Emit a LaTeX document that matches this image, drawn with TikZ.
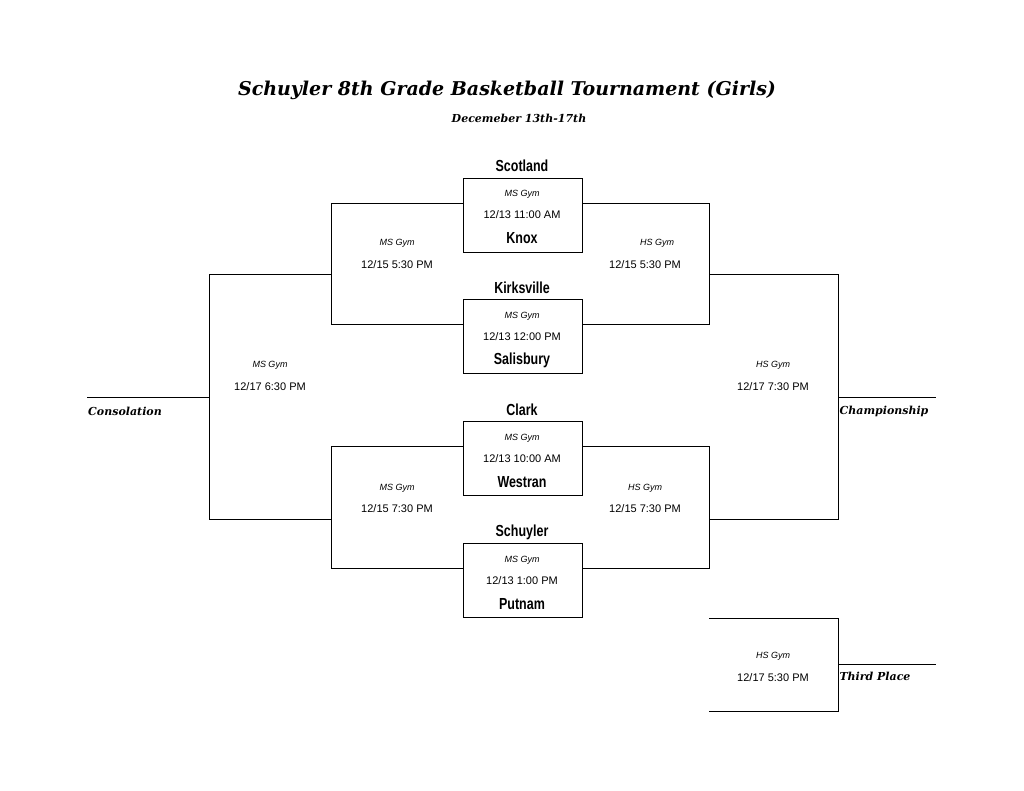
\documentclass[tikz,border=0pt]{standalone}
\usepackage{fontspec}
\setmainfont{Liberation Sans}
\newfontfamily\teamfont[FakeStretch=0.78]{Liberation Sans Bold}
\newfontfamily\scriptf{DejaVu Serif}
\begin{document}
\begin{tikzpicture}[x=1pt,y=-1pt,
  line/.style={black,line width=0.9pt},
  gbox/.style={draw,line width=0.9pt,minimum width=119pt,minimum height=74pt,inner sep=0pt},
  team/.style={font=\teamfont\fontsize{16}{16}\selectfont},
  gym/.style={font=\itshape\fontsize{9}{9}\selectfont},
  tm/.style={font=\fontsize{11}{11}\selectfont},
  lab/.style={font=\scriptf\bfseries\itshape\fontsize{11}{11}\selectfont}]
\useasboundingbox (0,0) rectangle (1024,791);
\node[font=\scriptf\bfseries\itshape\fontsize{19}{19}\selectfont] (title) at (507,90) {Schuyler 8th Grade Basketball Tournament (Girls)};
\node[font=\scriptf\bfseries\itshape\fontsize{11}{11}\selectfont] (sub) at (519,118) {Decemeber 13th-17th};
% boxes
\node[gbox] (g1) at (522.5,215) {};
\node[gbox] (g2) at (522.5,336.5) {};
\node[gbox] (g3) at (522.5,458.5) {};
\node[gbox] (g4) at (522.5,580.5) {};
\foreach \n/\top/\bot/\t/\y in {g1/Scotland/Knox/12\slash13 11:00 AM/178, g2/Kirksville/Salisbury/12\slash13 12:00 PM/300, g3/Clark/Westran/12\slash13 10:00 AM/422, g4/Schuyler/Putnam/12\slash13 1:00 PM/544}{
  \node[team] (\n t) at (522,\y-12) {\top};
  \node[team] (\n b) at (522,\y+60) {\bot};
  \node[gym] (\n g) at (522,\y+16) {MS Gym};
  \node[tm] (\n m) at (522,\y+37) {\t};
}
% second round
\draw[line] (463,203) -- (331,203) -- (331,324) -- (463,324);
\draw[line] (582,203) -- (709,203) -- (709,324) -- (582,324);
\draw[line] (463,446) -- (331,446) -- (331,568) -- (463,568);
\draw[line] (582,446) -- (709,446) -- (709,568) -- (582,568);
% finals
\draw[line] (331,274) -- (209,274) -- (209,519) -- (331,519);
\draw[line] (709,274) -- (838,274) -- (838,519) -- (709,519);
\draw[line] (209,397) -- (87,397);
\draw[line] (838,397) -- (936,397);
% third place
\draw[line] (709,618) -- (838,618) -- (838,711) -- (709,711);
\draw[line] (838,664) -- (936,664);
% labels
\node[gym] (a1) at (397,243) {MS Gym}; \node[tm] (b1) at (397,265) {12/15 5:30 PM};
\node[gym] (a2) at (657,243) {HS Gym}; \node[tm] (b2) at (645,265) {12/15 5:30 PM};
\node[gym] (a3) at (397,488) {MS Gym}; \node[tm] (b3) at (397,509) {12/15 7:30 PM};
\node[gym] (a4) at (645,488) {HS Gym}; \node[tm] (b4) at (645,509) {12/15 7:30 PM};
\node[gym] (a5) at (270,365) {MS Gym}; \node[tm] (b5) at (270,387) {12/17 6:30 PM};
\node[gym] (a6) at (773,365) {HS Gym}; \node[tm] (b6) at (773,387) {12/17 7:30 PM};
\node[gym] (a7) at (773,656) {HS Gym}; \node[tm] (b7) at (773,678) {12/17 5:30 PM};
\node[lab] (cons) at (125,411) {Consolation};
\node[lab] (champ) at (884,411) {Championship};
\node[lab] (third) at (875,676) {Third Place};
\end{tikzpicture}
\end{document}
